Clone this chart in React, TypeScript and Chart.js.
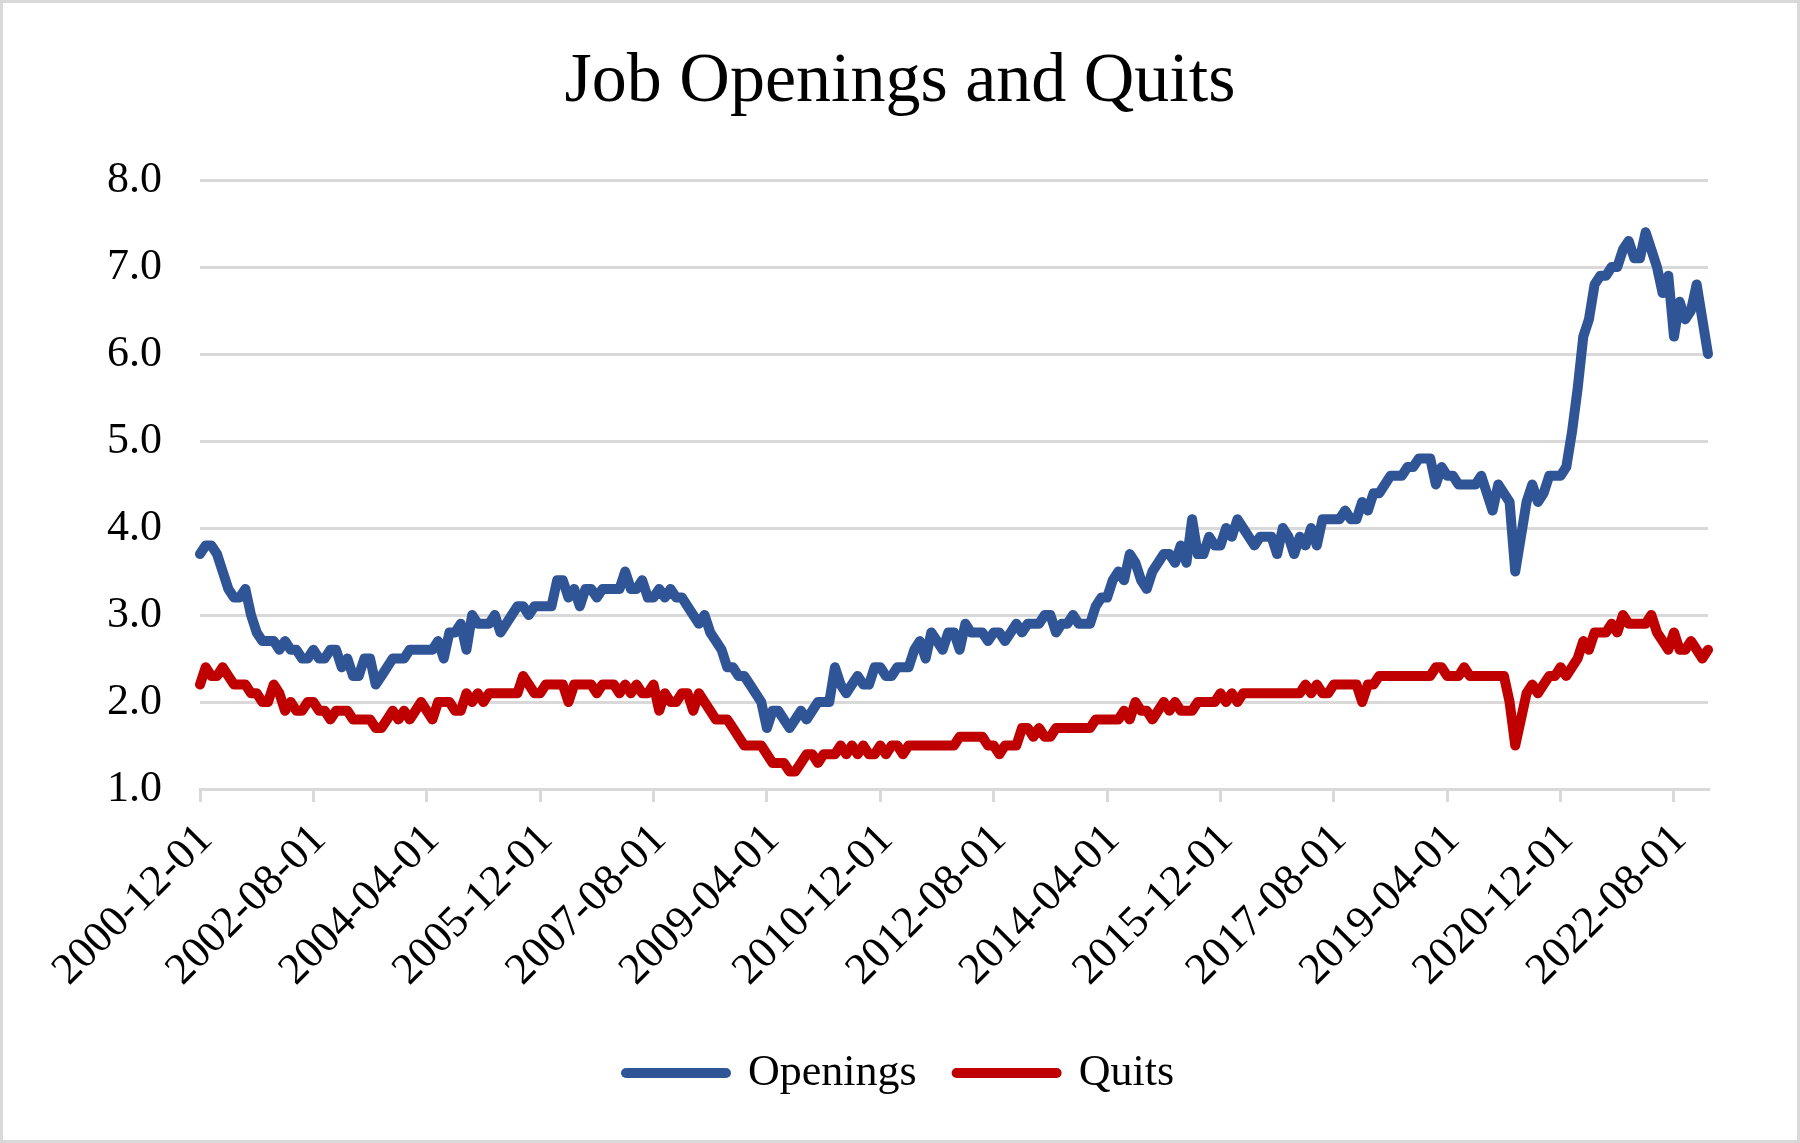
import React, { useEffect, useRef } from 'react';
import { Chart, registerables } from 'chart.js';

Chart.register(...registerables);

// Monthly series, starting 2000-12
const START_YEAR = 2000;
const START_MONTH = 12;
const TICK_EVERY = 20;

const openings = [
  3.7, 3.8, 3.8, 3.7, 3.5, 3.3, 3.2, 3.2, 3.3, 3.0,
  2.8, 2.7, 2.7, 2.7, 2.6, 2.7, 2.6, 2.6, 2.5, 2.5,
  2.6, 2.5, 2.5, 2.6, 2.6, 2.4, 2.5, 2.3, 2.3, 2.5,
  2.5, 2.2, 2.3, 2.4, 2.5, 2.5, 2.5, 2.6, 2.6, 2.6,
  2.6, 2.6, 2.7, 2.5, 2.8, 2.8, 2.9, 2.6, 3.0, 2.9,
  2.9, 2.9, 3.0, 2.8, 2.9, 3.0, 3.1, 3.1, 3.0, 3.1,
  3.1, 3.1, 3.1, 3.4, 3.4, 3.2, 3.3, 3.1, 3.3, 3.3,
  3.2, 3.3, 3.3, 3.3, 3.3, 3.5, 3.3, 3.3, 3.4, 3.2,
  3.2, 3.3, 3.2, 3.3, 3.2, 3.2, 3.1, 3.0, 2.9, 3.0,
  2.8, 2.7, 2.6, 2.4, 2.4, 2.3, 2.3, 2.2, 2.1, 2.0,
  1.7, 1.9, 1.9, 1.8, 1.7, 1.8, 1.9, 1.8, 1.9, 2.0,
  2.0, 2.0, 2.4, 2.2, 2.1, 2.2, 2.3, 2.2, 2.2, 2.4,
  2.4, 2.3, 2.3, 2.4, 2.4, 2.4, 2.6, 2.7, 2.5, 2.8,
  2.7, 2.6, 2.8, 2.8, 2.6, 2.9, 2.8, 2.8, 2.8, 2.7,
  2.8, 2.8, 2.7, 2.8, 2.9, 2.8, 2.9, 2.9, 2.9, 3.0,
  3.0, 2.8, 2.9, 2.9, 3.0, 2.9, 2.9, 2.9, 3.1, 3.2,
  3.2, 3.4, 3.5, 3.4, 3.7, 3.6, 3.4, 3.3, 3.5, 3.6,
  3.7, 3.7, 3.6, 3.8, 3.6, 4.1, 3.7, 3.7, 3.9, 3.8,
  3.8, 4.0, 3.9, 4.1, 4.0, 3.9, 3.8, 3.9, 3.9, 3.9,
  3.7, 4.0, 3.9, 3.7, 3.9, 3.8, 4.0, 3.8, 4.1, 4.1,
  4.1, 4.1, 4.2, 4.1, 4.1, 4.3, 4.2, 4.4, 4.4, 4.5,
  4.6, 4.6, 4.6, 4.7, 4.7, 4.8, 4.8, 4.8, 4.5, 4.7,
  4.6, 4.6, 4.5, 4.5, 4.5, 4.5, 4.6, 4.4, 4.2, 4.5,
  4.4, 4.3, 3.5, 3.9, 4.3, 4.5, 4.3, 4.4, 4.6, 4.6,
  4.6, 4.7, 5.1, 5.6, 6.2, 6.4, 6.8, 6.9, 6.9, 7.0,
  7.0, 7.2, 7.3, 7.1, 7.1, 7.4, 7.2, 7.0, 6.7, 6.9,
  6.2, 6.6, 6.4, 6.5, 6.8, 6.4, 6.0,
];

const quits = [
  2.2, 2.4, 2.3, 2.3, 2.4, 2.3, 2.2, 2.2, 2.2, 2.1,
  2.1, 2.0, 2.0, 2.2, 2.1, 1.9, 2.0, 1.9, 1.9, 2.0,
  2.0, 1.9, 1.9, 1.8, 1.9, 1.9, 1.9, 1.8, 1.8, 1.8,
  1.8, 1.7, 1.7, 1.8, 1.9, 1.8, 1.9, 1.8, 1.9, 2.0,
  1.9, 1.8, 2.0, 2.0, 2.0, 1.9, 1.9, 2.1, 2.0, 2.1,
  2.0, 2.1, 2.1, 2.1, 2.1, 2.1, 2.1, 2.3, 2.2, 2.1,
  2.1, 2.2, 2.2, 2.2, 2.2, 2.0, 2.2, 2.2, 2.2, 2.2,
  2.1, 2.2, 2.2, 2.2, 2.1, 2.2, 2.1, 2.2, 2.1, 2.1,
  2.2, 1.9, 2.1, 2.0, 2.0, 2.1, 2.1, 1.9, 2.1, 2.0,
  1.9, 1.8, 1.8, 1.8, 1.7, 1.6, 1.5, 1.5, 1.5, 1.5,
  1.4, 1.3, 1.3, 1.3, 1.2, 1.2, 1.3, 1.4, 1.4, 1.3,
  1.4, 1.4, 1.4, 1.5, 1.4, 1.5, 1.4, 1.5, 1.4, 1.4,
  1.5, 1.4, 1.5, 1.5, 1.4, 1.5, 1.5, 1.5, 1.5, 1.5,
  1.5, 1.5, 1.5, 1.5, 1.6, 1.6, 1.6, 1.6, 1.6, 1.5,
  1.5, 1.4, 1.5, 1.5, 1.5, 1.7, 1.7, 1.6, 1.7, 1.6,
  1.6, 1.7, 1.7, 1.7, 1.7, 1.7, 1.7, 1.7, 1.8, 1.8,
  1.8, 1.8, 1.8, 1.9, 1.8, 2.0, 1.9, 1.9, 1.8, 1.9,
  2.0, 1.9, 2.0, 1.9, 1.9, 1.9, 2.0, 2.0, 2.0, 2.0,
  2.1, 2.0, 2.1, 2.0, 2.1, 2.1, 2.1, 2.1, 2.1, 2.1,
  2.1, 2.1, 2.1, 2.1, 2.1, 2.2, 2.1, 2.2, 2.1, 2.1,
  2.2, 2.2, 2.2, 2.2, 2.2, 2.0, 2.2, 2.2, 2.3, 2.3,
  2.3, 2.3, 2.3, 2.3, 2.3, 2.3, 2.3, 2.3, 2.4, 2.4,
  2.3, 2.3, 2.3, 2.4, 2.3, 2.3, 2.3, 2.3, 2.3, 2.3,
  2.3, 2.0, 1.5, 1.8, 2.1, 2.2, 2.1, 2.2, 2.3, 2.3,
  2.4, 2.3, 2.4, 2.5, 2.7, 2.6, 2.8, 2.8, 2.8, 2.9,
  2.8, 3.0, 2.9, 2.9, 2.9, 2.9, 3.0, 2.8, 2.7, 2.6,
  2.8, 2.6, 2.6, 2.7, 2.6, 2.5, 2.6,
];

const categories = openings.map((_, i) => {
  const m0 = START_MONTH - 1 + i;
  const y = START_YEAR + Math.floor(m0 / 12);
  const m = (m0 % 12) + 1;
  return `${y}-${String(m).padStart(2, '0')}-01`;
});

const yTickValues = [1, 2, 3, 4, 5, 6, 7, 8];

const BLUE = '#2F5597';
const RED = '#C00000';
const GRID = '#D9D9D9';
const SERIF = "'Liberation Serif', 'Times New Roman', serif";

export default function App() {
  const ref = useRef<HTMLCanvasElement>(null);

  useEffect(() => {
    const canvas = ref.current;
    if (!canvas) return;
    const chart = new Chart(canvas, {
      type: 'line',
      data: {
        labels: categories,
        datasets: [
          {
            label: 'Openings',
            data: openings,
            borderColor: BLUE,
            backgroundColor: BLUE,
            borderWidth: 10,
            pointRadius: 0,
            pointHoverRadius: 0,
            borderJoinStyle: 'round',
            borderCapStyle: 'round',
            tension: 0,
            fill: false,
          },
          {
            label: 'Quits',
            data: quits,
            borderColor: RED,
            backgroundColor: RED,
            borderWidth: 10,
            pointRadius: 0,
            pointHoverRadius: 0,
            borderJoinStyle: 'round',
            borderCapStyle: 'round',
            tension: 0,
            fill: false,
          },
        ],
      },
      options: {
        responsive: false,
        animation: false,
        devicePixelRatio: 1,
        layout: { padding: { left: 0, right: 0, top: 0, bottom: 38 } },
        plugins: {
          title: {
            display: true,
            text: 'Job Openings and Quits',
            color: '#000',
            font: { family: SERIF, size: 70, weight: 'normal' },
            padding: { top: 41, bottom: 55 },
          },
          legend: {
            position: 'bottom',
            labels: {
              usePointStyle: true,
              pointStyleWidth: 100,
              boxHeight: 10,
              color: '#000',
              padding: 40,
              font: { family: SERIF, size: 44 },
              generateLabels: (c: any) =>
                c.data.datasets.map((ds: any, i: number) => ({
                  text: ds.label,
                  fillStyle: ds.borderColor,
                  strokeStyle: ds.borderColor,
                  lineWidth: 10,
                  lineCap: 'round',
                  pointStyle: 'line',
                  hidden: false,
                  datasetIndex: i,
                  fontColor: '#000',
                })),
            },
          },
          tooltip: { enabled: false },
        },
        scales: {
          x: {
            type: 'category',
            grid: {
              display: true,
              drawOnChartArea: false,
              drawTicks: true,
              tickLength: 13,
              color: GRID,
              lineWidth: 3,
            },
            border: { display: true, color: GRID, width: 3 },
            ticks: {
              autoSkip: false,
              maxRotation: 45,
              minRotation: 45,
              color: '#000',
              padding: 12,
              labelOffset: 6,
              font: { family: SERIF, size: 44 },
              callback: (_v: any, index: number) =>
                index % TICK_EVERY === 0 ? categories[index] : null,
            },
            afterFit: (s: any) => {
              s.height = 222;
            },
          },
          y: {
            min: yTickValues[0],
            max: yTickValues[yTickValues.length - 1],
            grid: { color: GRID, lineWidth: 3, drawTicks: false },
            border: { display: false },
            ticks: {
              stepSize: 1,
              padding: 38,
              color: '#000',
              font: { family: SERIF, size: 44 },
              callback: (v: any) => Number(v).toFixed(1),
            },
            afterFit: (s: any) => {
              s.width = 200;
            },
          },
          yRight: {
            position: 'right',
            display: true,
            grid: { display: false, drawTicks: false },
            border: { display: false },
            ticks: { display: false },
            afterFit: (s: any) => {
              s.width = 92;
            },
          },
        },
      },
    } as any);
    return () => chart.destroy();
  }, []);

  return (
    <div
      style={{
        position: 'fixed',
        left: 0,
        top: 0,
        width: 1800,
        height: 1143,
        boxSizing: 'border-box',
        border: '3px solid #D9D9D9',
        background: '#fff',
      }}
    >
      <canvas
        ref={ref}
        width={1800}
        height={1143}
        style={{ position: 'absolute', left: -3, top: -3, width: 1800, height: 1143 }}
      />
    </div>
  );
}
